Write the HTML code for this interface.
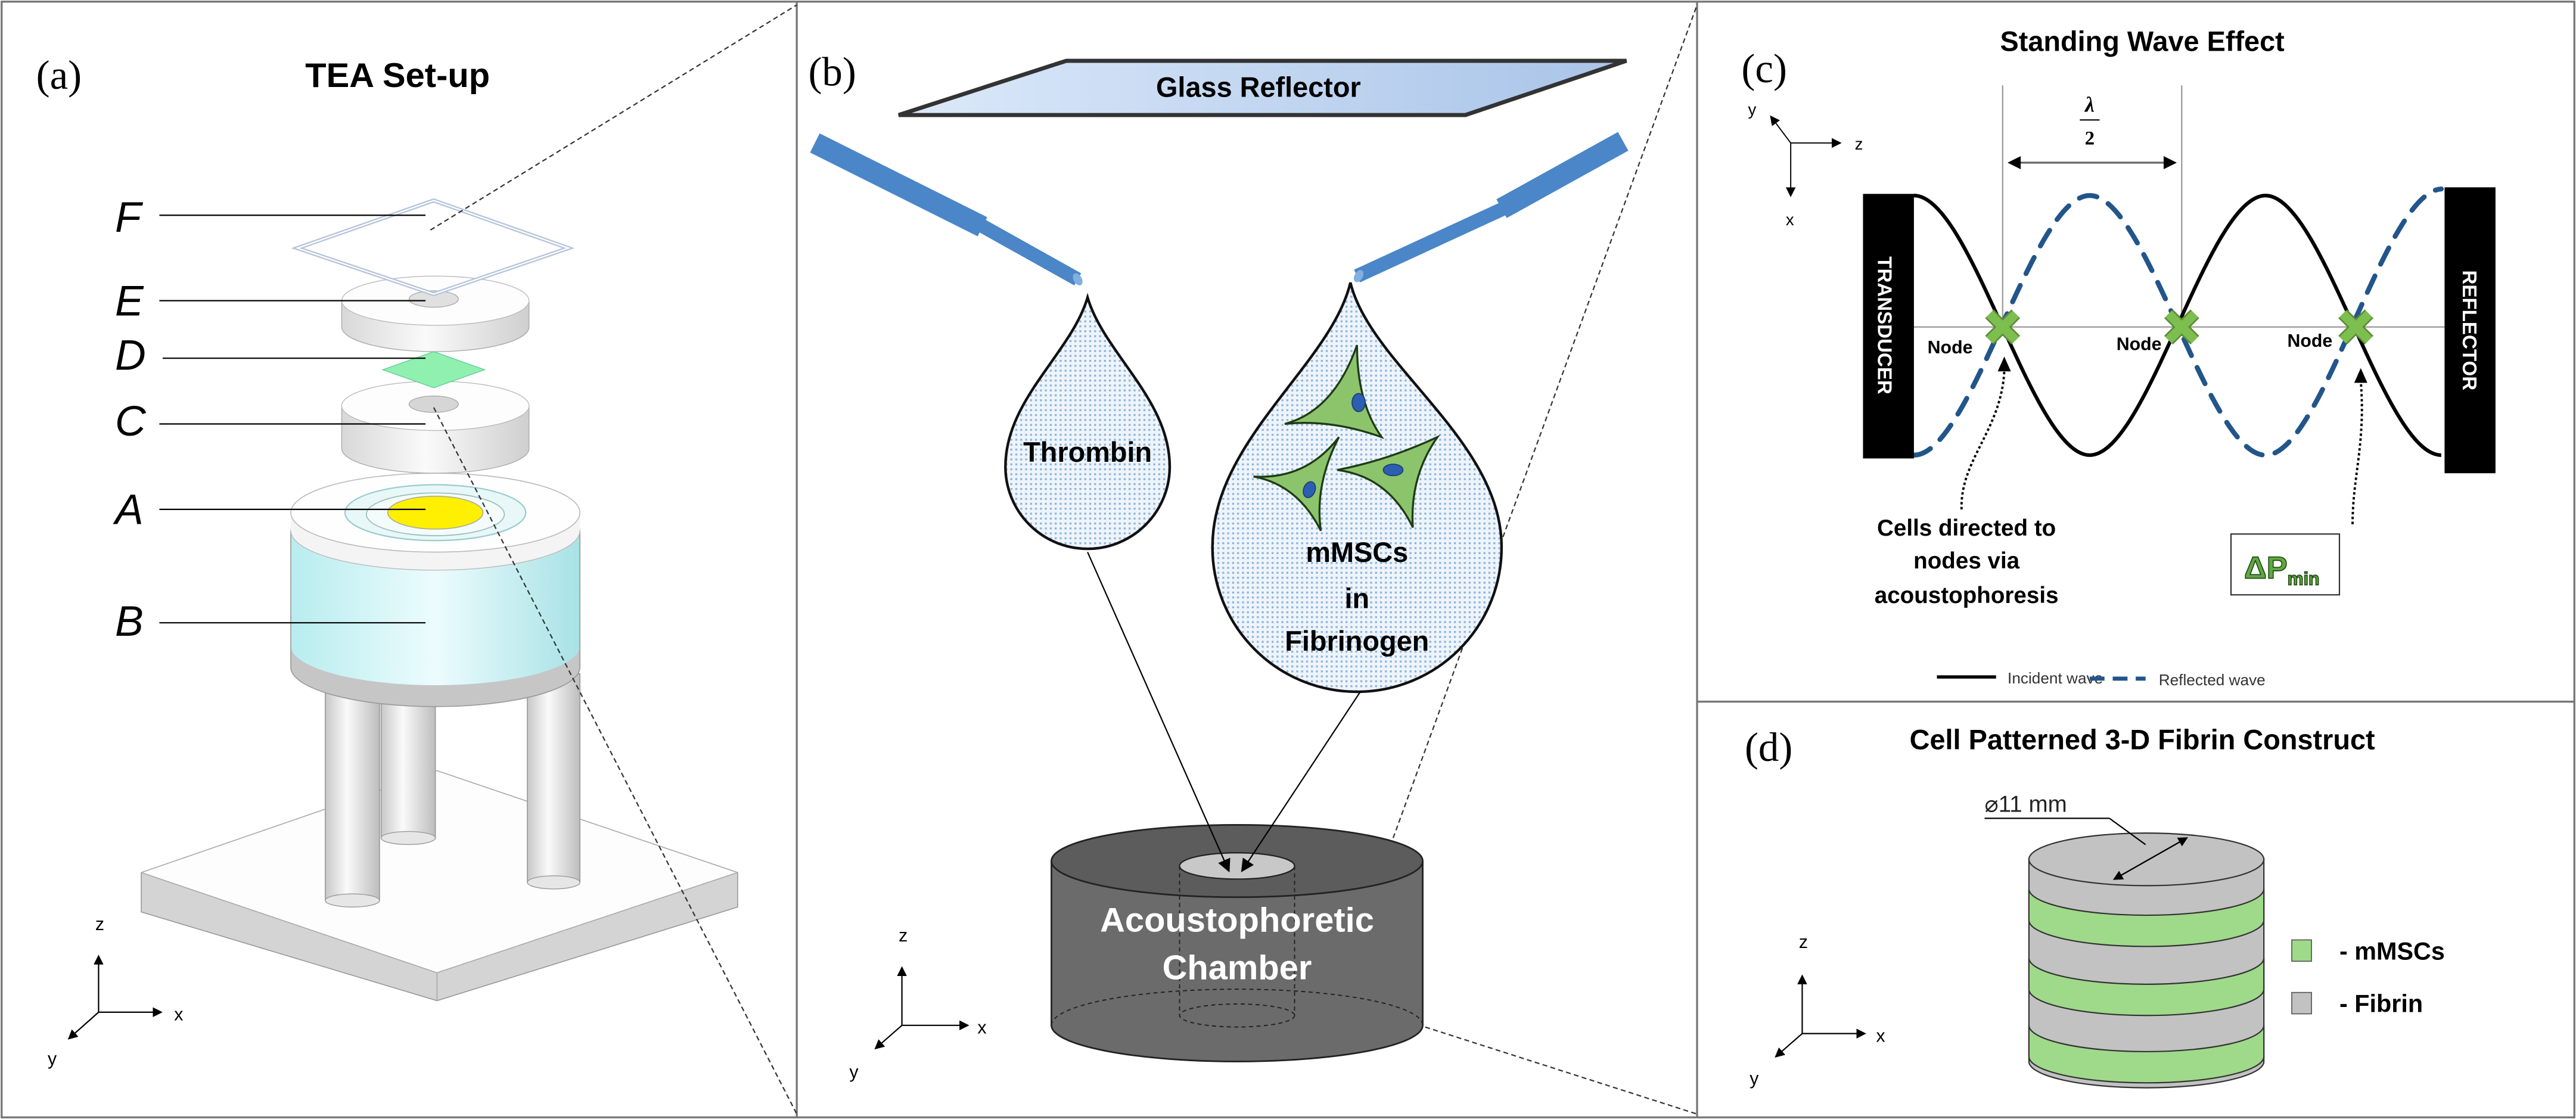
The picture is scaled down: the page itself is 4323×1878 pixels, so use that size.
<!DOCTYPE html>
<html><head><meta charset="utf-8"><style>
html,body{margin:0;padding:0;background:#fff;}
svg{display:block;}
text{font-family:"Liberation Sans",sans-serif;}
.ser{font-family:"Liberation Serif",serif;}
</style></head><body>
<svg width="4323" height="1878" viewBox="0 0 1568 681" preserveAspectRatio="none" xmlns="http://www.w3.org/2000/svg">
<defs>
<linearGradient id="glass" x1="0" y1="0" x2="1" y2="0"><stop offset="0" stop-color="#dce9fa"/><stop offset="1" stop-color="#a9c4e8"/></linearGradient>
<linearGradient id="leg" x1="0" y1="0" x2="1" y2="0"><stop offset="0" stop-color="#c8c8c8"/><stop offset="0.4" stop-color="#fafafa"/><stop offset="1" stop-color="#bdbdbd"/></linearGradient>
<linearGradient id="cyan" x1="0" y1="0" x2="1" y2="0"><stop offset="0" stop-color="#b8ecef"/><stop offset="0.5" stop-color="#ecfcfd"/><stop offset="1" stop-color="#a8e2e6"/></linearGradient>
<linearGradient id="disc" x1="0" y1="0" x2="1" y2="0"><stop offset="0" stop-color="#d8d8d8"/><stop offset="0.45" stop-color="#fafafa"/><stop offset="1" stop-color="#cfcfcf"/></linearGradient>
<pattern id="dots" width="3" height="3" patternUnits="userSpaceOnUse"><rect width="3" height="3" fill="#eef4fb"/><rect x="0" y="0" width="1.2" height="1.2" fill="#8db3dc"/></pattern>
<marker id="ah" markerWidth="8" markerHeight="8" refX="7" refY="4" orient="auto" markerUnits="userSpaceOnUse"><path d="M0,0 L8,4 L0,8 z" fill="#000"/></marker>
<marker id="ahs" markerWidth="6" markerHeight="6" refX="5" refY="3" orient="auto" markerUnits="userSpaceOnUse"><path d="M0,0 L6,3 L0,6 z" fill="#000"/></marker>
</defs>

<rect x="1" y="1" width="1566" height="679" fill="none" stroke="#777" stroke-width="1.2"/>
<line x1="485" y1="1" x2="485" y2="680" stroke="#777" stroke-width="1.2"/>
<line x1="1033" y1="1" x2="1033" y2="680" stroke="#777" stroke-width="1.2"/>
<line x1="1033" y1="427" x2="1567" y2="427" stroke="#777" stroke-width="1.2"/>

<!-- ===== Panel (a) ===== -->
<text x="22" y="54" class="ser" font-size="25">(a)</text>
<text x="242" y="53" font-size="21" font-weight="bold" text-anchor="middle">TEA Set-up</text>

<path d="M86,531 L86,555 L266,609 L449,552 L449,531 Z" fill="#d4d4d4" stroke="#999" stroke-width="0.6" stroke-linejoin="round"/>
<path d="M86,531 L266,469 L449,531 L266,592 Z" fill="#fdfdfd" stroke="#aaa" stroke-width="0.6" stroke-linejoin="round"/>
<line x1="266" y1="592" x2="266" y2="609" stroke="#aaa" stroke-width="0.6"/>
<rect x="232" y="420" width="33" height="90" fill="url(#leg)" stroke="#999" stroke-width="0.6"/>
<ellipse cx="248.5" cy="510" rx="16.5" ry="4" fill="#e6e6e6" stroke="#999" stroke-width="0.5"/>
<rect x="198" y="412" width="33" height="136" fill="url(#leg)" stroke="#999" stroke-width="0.6"/>
<ellipse cx="214.5" cy="548" rx="16.5" ry="4" fill="#e6e6e6" stroke="#999" stroke-width="0.5"/>
<rect x="321" y="410" width="32" height="127" fill="url(#leg)" stroke="#999" stroke-width="0.6"/>
<ellipse cx="337" cy="537" rx="16" ry="4" fill="#e6e6e6" stroke="#999" stroke-width="0.5"/>
<ellipse cx="265" cy="406" rx="88" ry="24" fill="#c6c6c6" stroke="#999" stroke-width="0.6"/>
<rect x="177" y="393" width="176" height="13" fill="#c6c6c6"/>
<ellipse cx="265" cy="393" rx="88" ry="24" fill="url(#cyan)"/>
<rect x="177" y="323" width="176" height="70" fill="url(#cyan)"/>
<line x1="177" y1="323" x2="177" y2="406" stroke="#999" stroke-width="0.6"/>
<line x1="353" y1="323" x2="353" y2="406" stroke="#999" stroke-width="0.6"/>
<ellipse cx="265" cy="323" rx="88" ry="24" fill="#f4f4f4" stroke="#bbb" stroke-width="0.5"/>
<rect x="177" y="312" width="176" height="11" fill="#f4f4f4"/>
<ellipse cx="265" cy="312" rx="88" ry="24" fill="#fefefe" stroke="#bbb" stroke-width="0.6"/>
<ellipse cx="265" cy="312" rx="55" ry="17" fill="#e8f7f7" stroke="#9cc" stroke-width="0.8"/>
<ellipse cx="265" cy="313" rx="42" ry="13" fill="#f4fbfb" stroke="#9bb" stroke-width="0.6"/>
<ellipse cx="265" cy="312" rx="29" ry="10" fill="#ffef00" stroke="#aa9" stroke-width="0.6"/>
<ellipse cx="265" cy="273" rx="57" ry="15" fill="url(#disc)" stroke="#aaa" stroke-width="0.5"/>
<rect x="208" y="247" width="114" height="26" fill="url(#disc)"/>
<line x1="208" y1="247" x2="208" y2="273" stroke="#aaa" stroke-width="0.5"/>
<line x1="322" y1="247" x2="322" y2="273" stroke="#aaa" stroke-width="0.5"/>
<ellipse cx="265" cy="247" rx="57" ry="15" fill="#fdfdfd" stroke="#bbb" stroke-width="0.5"/>
<ellipse cx="264" cy="246" rx="15" ry="5" fill="#d6d6d6" stroke="#aaa" stroke-width="0.5"/>
<path d="M233,225 L264,214 L295,225 L264,236 Z" fill="#8ff0b0" stroke="#6c9" stroke-width="0.5"/>
<ellipse cx="265" cy="199" rx="57" ry="15" fill="url(#disc)" stroke="#aaa" stroke-width="0.5"/>
<rect x="208" y="183" width="114" height="16" fill="url(#disc)"/>
<line x1="208" y1="183" x2="208" y2="199" stroke="#aaa" stroke-width="0.5"/>
<line x1="322" y1="183" x2="322" y2="199" stroke="#aaa" stroke-width="0.5"/>
<ellipse cx="265" cy="183" rx="57" ry="15" fill="#fdfdfd" stroke="#bbb" stroke-width="0.5"/>
<ellipse cx="264" cy="182" rx="15" ry="5" fill="#e0e0e0" stroke="#aaa" stroke-width="0.5"/>
<path d="M181,151 L264,122 L346,151 L264,179 Z" fill="none" stroke="#b8c4dc" stroke-width="2.5"/>
<path d="M181,151 L264,122 L346,151 L264,179 Z" fill="none" stroke="#fff" stroke-width="0.8"/>
<g font-size="26" font-style="italic">
<text x="70" y="141">F</text><text x="70" y="192">E</text><text x="70" y="225">D</text>
<text x="70" y="265">C</text><text x="70" y="319">A</text><text x="70" y="387">B</text>
</g>
<g stroke="#000" stroke-width="0.8">
<line x1="97" y1="131" x2="259" y2="131"/><line x1="97" y1="183" x2="259" y2="183"/>
<line x1="99" y1="218" x2="259" y2="218"/><line x1="97" y1="258" x2="259" y2="258"/>
<line x1="97" y1="310" x2="259" y2="310"/><line x1="97" y1="379" x2="259" y2="379"/>
</g>
<g stroke="#000" stroke-width="0.8" fill="none">
<line x1="60" y1="616" x2="60" y2="582" marker-end="url(#ahs)"/>
<line x1="60" y1="616" x2="98" y2="616" marker-end="url(#ahs)"/>
<line x1="60" y1="616" x2="42" y2="632" marker-end="url(#ahs)"/>
</g>
<text x="58" y="566" font-size="11">z</text><text x="106" y="621" font-size="11">x</text><text x="29" y="648" font-size="11">y</text>

<g stroke="#333" stroke-width="0.8" stroke-dasharray="3,2" fill="none">
<line x1="262" y1="140" x2="485" y2="3"/>
<line x1="264" y1="248" x2="485" y2="678"/>
<line x1="848" y1="510" x2="1033" y2="3"/>
<line x1="858" y1="622" x2="1033" y2="678"/>
</g>

<!-- ===== Panel (b) ===== -->
<text x="492" y="52" class="ser" font-size="25">(b)</text>
<path d="M547,70 L649,37 L990,37 L892,70 Z" fill="url(#glass)" stroke="#333" stroke-width="2.5"/>
<text x="766" y="59" font-size="17" font-weight="bold" text-anchor="middle">Glass Reflector</text>
<g stroke="#4a86c8" fill="none">
<line x1="496" y1="87" x2="598" y2="138" stroke-width="13"/>
<line x1="597" y1="137" x2="656" y2="170" stroke-width="8.5"/>
<line x1="988" y1="86" x2="914" y2="127" stroke-width="13"/>
<line x1="915" y1="127" x2="826" y2="168" stroke-width="8.5"/>
</g>
<ellipse cx="656" cy="170" rx="2.5" ry="4" fill="#7fb0e0" transform="rotate(-30 656 170)"/>
<ellipse cx="827" cy="168" rx="2.5" ry="4" fill="#7fb0e0" transform="rotate(30 827 168)"/>
<path d="M662,181 C652,215 612,243 612,284 A50,50 0 0 0 712,284 C712,243 672,215 662,181 Z" fill="url(#dots)" stroke="#111" stroke-width="1.6"/>
<path d="M822,172 C810,222 738,268 738,333 A88,88 0 0 0 914,333 C914,268 834,222 822,172 Z" fill="url(#dots)" stroke="#111" stroke-width="1.6"/>
<g fill="#8cc46c" stroke="#1f3a14" stroke-width="1.2">
<path d="M782,258 Q812,250 826,210 Q826,245 841,266 Q810,255 782,258 Z"/>
<path d="M763,290 Q795,292 815,266 Q800,295 804,323 Q790,295 763,290 Z"/>
<path d="M814,286 Q845,280 875,266 Q858,290 860,321 Q845,290 814,286 Z"/>
</g>
<g fill="#2d5fb0" stroke="#1a3a70" stroke-width="0.6">
<ellipse cx="827" cy="245" rx="4" ry="5.5"/>
<ellipse cx="797" cy="298" rx="3.5" ry="5" transform="rotate(20 797 298)"/>
<ellipse cx="848" cy="286" rx="6" ry="3.5"/>
</g>
<g font-size="17" font-weight="bold" text-anchor="middle">
<text x="662" y="281">Thrombin</text>
<text x="826" y="342">mMSCs</text>
<text x="826" y="370">in</text>
<text x="826" y="396">Fibrinogen</text>
</g>
<ellipse cx="753" cy="624" rx="113" ry="22" fill="#6b6b6b" stroke="#222" stroke-width="1"/>
<rect x="640" y="524" width="226" height="100" fill="#6b6b6b"/>
<line x1="640" y1="524" x2="640" y2="624" stroke="#222" stroke-width="1"/>
<line x1="866" y1="524" x2="866" y2="624" stroke="#222" stroke-width="1"/>
<ellipse cx="753" cy="524" rx="113" ry="22" fill="#5c5c5c" stroke="#222" stroke-width="1"/>
<ellipse cx="753" cy="527" rx="35" ry="8" fill="#c8c8c8" stroke="#222" stroke-width="0.8"/>
<g stroke="#222" stroke-width="0.7" stroke-dasharray="2.5,2" fill="none">
<line x1="718" y1="527" x2="718" y2="618"/><line x1="788" y1="527" x2="788" y2="618"/>
<ellipse cx="753" cy="618" rx="35" ry="7"/>
<path d="M640,624 A113,22 0 0 1 866,624"/>
</g>
<g font-size="21" font-weight="bold" fill="#fff" text-anchor="middle">
<text x="753" y="567">Acoustophoretic</text>
<text x="753" y="596">Chamber</text>
</g>
<line x1="662" y1="336" x2="748" y2="530" stroke="#000" stroke-width="0.8" marker-end="url(#ah)"/>
<line x1="828" y1="421" x2="756" y2="530" stroke="#000" stroke-width="0.8" marker-end="url(#ah)"/>
<g stroke="#000" stroke-width="0.8" fill="none">
<line x1="549" y1="624" x2="549" y2="589" marker-end="url(#ahs)"/>
<line x1="549" y1="624" x2="589" y2="624" marker-end="url(#ahs)"/>
<line x1="549" y1="624" x2="533" y2="638" marker-end="url(#ahs)"/>
</g>
<text x="547" y="573" font-size="11">z</text><text x="595" y="629" font-size="11">x</text><text x="517" y="656" font-size="11">y</text>

<!-- ===== Panel (c) ===== -->
<text x="1060" y="50" class="ser" font-size="25">(c)</text>
<text x="1304" y="31" font-size="17" font-weight="bold" text-anchor="middle">Standing Wave Effect</text>
<g stroke="#000" stroke-width="0.7" fill="none">
<line x1="1090" y1="87" x2="1120" y2="87" marker-end="url(#ahs)"/>
<line x1="1090" y1="87" x2="1090" y2="119" marker-end="url(#ahs)"/>
<line x1="1090" y1="87" x2="1078" y2="71" marker-end="url(#ahs)"/>
</g>
<text x="1129" y="91" font-size="10">z</text><text x="1087" y="137" font-size="10">x</text><text x="1064" y="70" font-size="10">y</text>
<g stroke="#999" stroke-width="0.8">
<line x1="1165" y1="199" x2="1488" y2="199"/>
<line x1="1219" y1="52" x2="1219" y2="199"/>
<line x1="1328" y1="52" x2="1328" y2="199"/>
</g>
<line x1="1228" y1="99" x2="1318" y2="99" stroke="#666" stroke-width="1.2"/>
<path d="M1222,99 L1230,95 L1230,103 Z M1325,99 L1317,95 L1317,103 Z" fill="#000"/>
<text x="1272" y="68" font-size="13" font-weight="bold" font-style="italic" text-anchor="middle" class="ser">λ</text>
<line x1="1266" y1="73" x2="1278" y2="73" stroke="#000" stroke-width="0.8"/>
<text x="1272" y="88" font-size="12" font-weight="bold" text-anchor="middle" class="ser">2</text>
<path d="M1165,119 C1200,119 1237,277 1272,277 C1307,277 1344,119 1379,119 C1414,119 1451,277 1486,277" fill="none" stroke="#000" stroke-width="2.2"/>
<path d="M1165,277 C1200,277 1237,119 1272,119 C1307,119 1344,277 1379,277 C1414,277 1451,117 1486,115" fill="none" stroke="#22558a" stroke-width="3" stroke-dasharray="11,8" stroke-linecap="round"/>
<rect x="1134" y="118" width="31" height="161" fill="#000"/>
<rect x="1488" y="114" width="31" height="174" fill="#000"/>
<text transform="translate(1143,198) rotate(90)" font-size="12" font-weight="bold" fill="#fff" text-anchor="middle">TRANSDUCER</text>
<text transform="translate(1499,201) rotate(90)" font-size="12" font-weight="bold" fill="#fff" text-anchor="middle">REFLECTOR</text>
<g stroke="#5f8a3a" stroke-width="7.5">
<path d="M1211,191 L1227,207 M1227,191 L1211,207"/>
<path d="M1320,191 L1336,207 M1336,191 L1320,207"/>
<path d="M1426,191 L1442,207 M1442,191 L1426,207"/>
</g>
<g stroke="#7cbf4f" stroke-width="5.5">
<path d="M1211,191 L1227,207 M1227,191 L1211,207"/>
<path d="M1320,191 L1336,207 M1336,191 L1320,207"/>
<path d="M1426,191 L1442,207 M1442,191 L1426,207"/>
</g>
<g font-size="11" font-weight="bold" text-anchor="middle">
<text x="1187" y="215">Node</text><text x="1302" y="213">Node</text><text x="1406" y="211">Node</text>
</g>
<g fill="none" stroke="#000" stroke-width="1.4" stroke-dasharray="1.5,1.5">
<path d="M1194,310 C1193,280 1218,262 1220,226"/>
<path d="M1432,319 C1432,290 1440,270 1437,232"/>
</g>
<path d="M1220,217 L1216,226 L1224,226 Z M1437,224 L1433,233 L1441,233 Z" fill="#000"/>
<g font-size="14" font-weight="bold" text-anchor="middle">
<text x="1197" y="326">Cells directed to</text>
<text x="1197" y="346">nodes via</text>
<text x="1197" y="367">acoustophoresis</text>
</g>
<rect x="1358" y="325" width="66" height="37" fill="#fff" stroke="#333" stroke-width="0.8"/>
<text x="1366" y="352" font-size="19" font-weight="bold" fill="#5fa845" stroke="#234a12" stroke-width="0.6">ΔP<tspan font-size="11" dy="4">min</tspan></text>
<line x1="1179" y1="412" x2="1215" y2="412" stroke="#000" stroke-width="2"/>
<text x="1222" y="416" font-size="9.5" fill="#333">Incident wave</text>
<line x1="1272" y1="413" x2="1306" y2="413" stroke="#22558a" stroke-width="2.5" stroke-dasharray="9,5"/>
<text x="1314" y="417" font-size="9.5" fill="#333">Reflected wave</text>

<!-- ===== Panel (d) ===== -->
<text x="1062" y="463" class="ser" font-size="25">(d)</text>
<text x="1304" y="456" font-size="17" font-weight="bold" text-anchor="middle">Cell Patterned 3-D Fibrin Construct</text>
<g stroke="#333" stroke-width="0.8">
<path d="M1235,523 L1235,646 A71.5,16 0 0 0 1378,646 L1378,523 Z" fill="#c2c2c2"/>
<path d="M1235,541 L1235,560 A71.5,16 0 0 0 1378,560 L1378,541 A71.5,16 0 0 1 1235,541 Z" fill="#9fd98a"/>
<path d="M1235,583 L1235,602 A71.5,16 0 0 0 1378,602 L1378,583 A71.5,16 0 0 1 1235,583 Z" fill="#9fd98a"/>
<path d="M1235,624 L1235,643 A71.5,16 0 0 0 1378,643 L1378,624 A71.5,16 0 0 1 1235,624 Z" fill="#9fd98a"/>
<ellipse cx="1306.5" cy="523" rx="71.5" ry="16" fill="#c2c2c2"/>
</g>
<line x1="1208" y1="498" x2="1284" y2="498" stroke="#000" stroke-width="0.8"/>
<line x1="1284" y1="498" x2="1306" y2="514" stroke="#000" stroke-width="0.8"/>
<line x1="1287" y1="535" x2="1331" y2="510" stroke="#000" stroke-width="0.8" marker-end="url(#ahs)"/>
<line x1="1331" y1="510" x2="1287" y2="535" stroke="#000" stroke-width="0.8" marker-end="url(#ahs)"/>
<text x="1208" y="494" font-size="14" fill="#222">⌀11 mm</text>
<rect x="1395" y="572" width="12" height="13" fill="#9fd98a" stroke="#555" stroke-width="0.6"/>
<rect x="1395" y="604" width="12" height="13" fill="#c2c2c2" stroke="#555" stroke-width="0.6"/>
<text x="1424" y="584" font-size="15" font-weight="bold">- mMSCs</text>
<text x="1424" y="616" font-size="15" font-weight="bold">- Fibrin</text>
<g stroke="#000" stroke-width="0.8" fill="none">
<line x1="1097" y1="629" x2="1097" y2="594" marker-end="url(#ahs)"/>
<line x1="1097" y1="629" x2="1135" y2="629" marker-end="url(#ahs)"/>
<line x1="1097" y1="629" x2="1081" y2="643" marker-end="url(#ahs)"/>
</g>
<text x="1095" y="577" font-size="11">z</text><text x="1142" y="634" font-size="11">x</text><text x="1065" y="660" font-size="11">y</text>
</svg>
</body></html>
